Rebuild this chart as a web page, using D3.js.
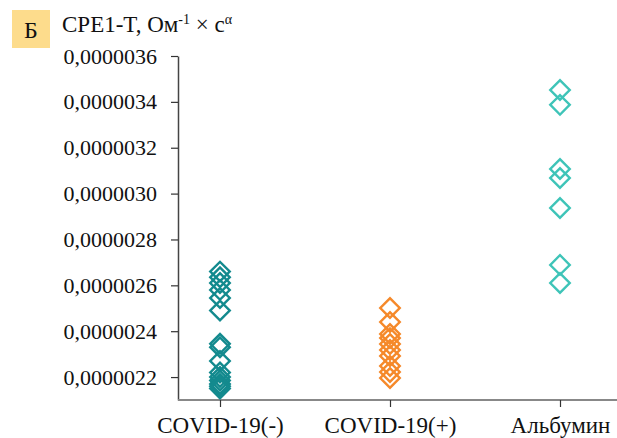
<!DOCTYPE html>
<html>
<head>
<meta charset="utf-8">
<script src="https://cdn.jsdelivr.net/npm/d3@7"></script>
<style>
  body { margin: 0; background: #fff; }
  text { font-family: "Liberation Serif", "DejaVu Serif", serif; }
</style>
</head>
<body>
<div id="chart"></div>
<script>
const categories = ["COVID-19(-)", "COVID-19(+)", "Альбумин"];
const colors = ["#138a8e", "#f5892a", "#3ec4b8"];

// values, in 1e-6 units
const covidNeg = [2.660, 2.635, 2.610, 2.580, 2.545, 2.490, 2.345, 2.330, 2.270,
                  2.220, 2.200, 2.185, 2.170, 2.160, 2.150];
const covidPos = [2.501, 2.440, 2.388, 2.370, 2.344, 2.318, 2.292, 2.248, 2.222, 2.196];
const albumin = [3.452, 3.387, 3.107, 3.068, 2.937, 2.689, 2.610];

const yTicks = [2.2, 2.4, 2.6, 2.8, 3.0, 3.2, 3.4, 3.6];

const width = 617, height = 438,
  margin = { top: 56, right: 0, bottom: 38, left: 178 };

const svg = d3.select("#chart").append("svg")
  .attr("width", width)
  .attr("height", height);

const x = d3.scalePoint()
  .domain(categories)
  .range([220, 560]);

const y = d3.scaleLinear()
  .domain([2.1e-6, 3.6e-6])
  .range([height - margin.bottom, margin.top]);

const fmt = d => d3.format(".7f")(d).replace(".", ",");

// y axis
const yAxis = svg.append("g")
  .attr("transform", "translate(" + margin.left + ",0)")
  .call(d3.axisLeft(y)
    .tickValues(yTicks.map(v => v * 1e-6))
    .tickFormat(fmt)
    .tickSize(7)
    .tickSizeOuter(0)
    .tickPadding(14));
yAxis.select(".domain").attr("stroke", "#444").attr("stroke-width", 1.5);
yAxis.selectAll(".tick line").attr("stroke", "#333").attr("stroke-width", 1.2);
yAxis.selectAll(".tick text")
  .style("font-size", "22px")
  .style("font-family", "'Liberation Serif', serif")
  .attr("fill", "#111");

// x axis
svg.append("line")
  .attr("x1", margin.left)
  .attr("x2", width)
  .attr("y1", height - margin.bottom)
  .attr("y2", height - margin.bottom)
  .attr("stroke", "#888")
  .attr("stroke-width", 2);

const xAxis = svg.append("g")
  .attr("transform", "translate(0," + (height - margin.bottom) + ")")
  .call(d3.axisBottom(x).tickSize(7).tickSizeOuter(0).tickPadding(10));
xAxis.select(".domain").remove();
xAxis.selectAll(".tick line").attr("stroke", "#333").attr("stroke-width", 1.2);
xAxis.selectAll(".tick text")
  .style("font-size", "23px")
  .style("font-family", "'Liberation Serif', serif")
  .attr("fill", "#111");

// diamonds
const series = [covidNeg, covidPos, albumin];
const diamond = d3.symbol().type(d3.symbolSquare).size(190);

series.forEach((vals, i) => {
  svg.selectAll(".pt-" + i)
    .data(vals)
    .enter().append("path")
    .attr("class", "pt-" + i)
    .attr("d", diamond)
    .attr("transform", d => "translate(" + x(categories[i]) + "," + y(d * 1e-6) + ") rotate(45)")
    .attr("fill", "none")
    .attr("stroke", colors[i])
    .attr("stroke-width", 2.4);
});

// badge
svg.append("rect")
  .attr("x", 12).attr("y", 10)
  .attr("width", 38).attr("height", 38)
  .attr("fill", "#fddc8c");
svg.append("text")
  .attr("x", 31).attr("y", 38)
  .attr("text-anchor", "middle")
  .attr("font-size", "24px")
  .attr("fill", "#111")
  .text("Б");

// title
const title = svg.append("text")
  .attr("x", 62).attr("y", 32)
  .attr("font-size", "23px")
  .attr("fill", "#111");
title.append("tspan").text("CPE1-T, Ом");
title.append("tspan").attr("dy", -8).attr("font-size", "14px").text("-1");
title.append("tspan").attr("dy", 8).text(" × с");
title.append("tspan").attr("dy", -8).attr("font-size", "14px").text("α");
</script>
</body>
</html>
